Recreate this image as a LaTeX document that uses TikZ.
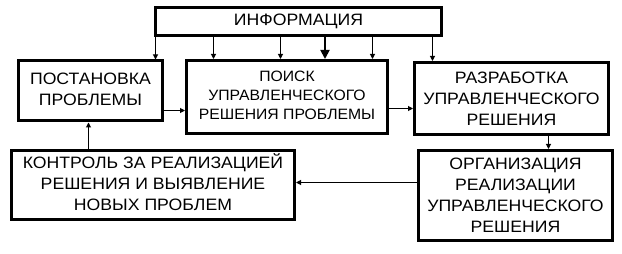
\documentclass[tikz,border=0pt]{standalone}
\usepackage{fontspec}
\setmainfont[FakeStretch=1.07]{Liberation Sans}
\newfontfamily\thinfont[FakeStretch=1.05]{Liberation Sans}
\usetikzlibrary{arrows.meta}
\newcommand\txtlines[2]{\raisebox{#1}{\begin{tabular}{@{}c@{}}#2\end{tabular}}}
\tikzset{
  box/.style={draw,line width=3pt,inner sep=0pt,align=center,
    font=\fontsize{16.5}{21}\selectfont},
  arr/.style={line width=1pt,-{Triangle[length=5pt,width=5pt]}},
  bigarr/.style={line width=1.8pt,-{Triangle[length=9pt,width=9pt]}}}
\begin{document}
\begin{tikzpicture}[x=1pt,y=-1pt]
\useasboundingbox (0,0) rectangle (622,254);
\node[box,minimum width=286pt,minimum height=28pt] (info) at (298.5,21.5) {ИНФОРМАЦИЯ};
\node[box,minimum width=144pt,minimum height=60pt] (post) at (90.5,91) {\txtlines{3pt}{ПОСТАНОВКА\\ПРОБЛЕМЫ}};
\node[box,minimum width=201pt,minimum height=73pt,font=\thinfont\fontsize{15}{19}\selectfont] (poisk) at (287,97)
  {\txtlines{10pt}{ПОИСК\\УПРАВЛЕНЧЕСКОГО\\РЕШЕНИЯ ПРОБЛЕМЫ}};
\node[box,minimum width=194pt,minimum height=72pt] (razr) at (511.5,98.5) {РАЗРАБОТКА\\УПРАВЛЕНЧЕСКОГО\\РЕШЕНИЯ};
\node[box,minimum width=283pt,minimum height=69pt] (kontr) at (153,185) {\txtlines{-1.5pt}{КОНТРОЛЬ ЗА РЕАЛИЗАЦИЕЙ\\РЕШЕНИЯ И ВЫЯВЛЕНИЕ\\НОВЫХ ПРОБЛЕМ}};
\node[box,minimum width=194pt,minimum height=90pt] (org) at (515.5,195.5) {ОРГАНИЗАЦИЯ\\РЕАЛИЗАЦИИ\\УПРАВЛЕНЧЕСКОГО\\РЕШЕНИЯ};
\draw[arr] (info.south -| 155.5,0) -- (post.north -| 155.5,0);
\draw[arr] (info.south -| 213.5,0) -- (poisk.north -| 213.5,0);
\draw[arr] (info.south -| 280.5,0) -- (poisk.north -| 280.5,0);
\draw[bigarr] (info.south -| 325,0) -- (poisk.north -| 325,0);
\draw[arr] (info.south -| 372.5,0) -- (poisk.north -| 372.5,0);
\draw[arr] (info.south -| 432.5,0) -- (razr.north -| 432.5,0);
\draw[arr] (post.east |- 0,110.5) -- (poisk.west |- 0,110.5);
\draw[arr] (poisk.east |- 0,108.5) -- (razr.west |- 0,108.5);
\draw[arr] (razr.south -| 548.5,0) -- (org.north -| 548.5,0);
\draw[arr] (org.west |- 0,182.5) -- (kontr.east |- 0,182.5);
\draw[arr] (kontr.north -| 88.5,0) -- (post.south -| 88.5,0);
\end{tikzpicture}
\end{document}
